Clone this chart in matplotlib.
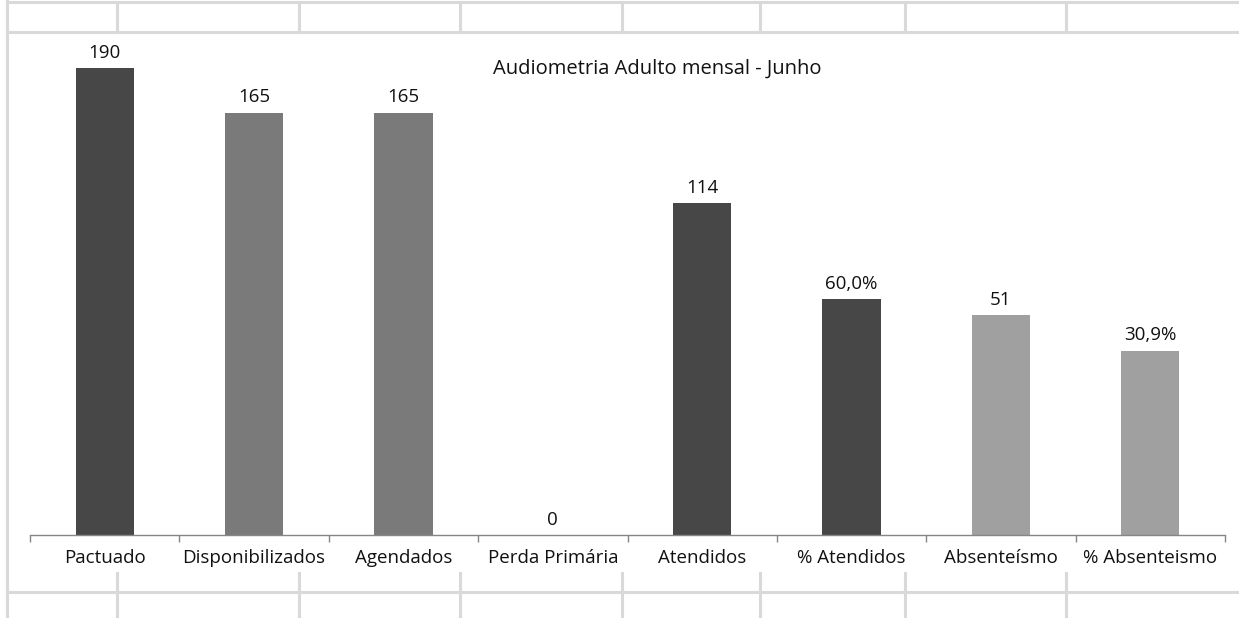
import matplotlib
matplotlib.use("Agg")
import matplotlib.pyplot as plt
from matplotlib.lines import Line2D
import numpy as np

plt.rcParams['font.family'] = ['Open Sans', 'DejaVu Sans']

categories = ["Pactuado", "Disponibilizados", "Agendados", "Perda Primária",
              "Atendidos", "% Atendidos", "Absenteísmo", "% Absenteismo"]
values = [190, 165, 165, 0, 114, 60.0, 51, 30.9]
value_labels = ["190", "165", "165", "0", "114", "60,0%", "51", "30,9%"]
bar_colors = ["#474747", "#7a7a7a", "#7a7a7a", "#7a7a7a",
              "#474747", "#474747", "#a0a0a0", "#a0a0a0"]
title = "Audiometria Adulto mensal - Junho"

W, H = 1239, 618
fig = plt.figure(figsize=(W / 100, H / 100), dpi=100)
fig.patch.set_facecolor("white")

# spreadsheet cell borders around the embedded chart
grid_c = "#d9d9d9"
def fx(px):
    return px / W
def fy(py):
    return 1 - py / H
for y in (2, 32, 592):
    fig.add_artist(Line2D([fx(7), 1], [fy(y), fy(y)], color=grid_c, lw=2.2))
fig.add_artist(Line2D([fx(7), fx(7)], [0, 1], color=grid_c, lw=2.2))
for x in (117, 299, 460, 622, 760, 905, 1066):
    fig.add_artist(Line2D([fx(x), fx(x)], [fy(2), fy(32)], color=grid_c, lw=2.2))
    fig.add_artist(Line2D([fx(x), fx(x)], [fy(573), 0], color=grid_c, lw=2.2))

# chart plot area; the value axis starts below zero
floor, top = -73, 206
ax_left, ax_right = 30, 1225
ax_bottom, ax_top = 535, 40
ax = fig.add_axes([fx(ax_left), fy(ax_bottom), (ax_right - ax_left) / W,
                   (ax_bottom - ax_top) / H])
ax.set_facecolor("none")

x = np.arange(len(categories))
vals = np.array(values)
heights = np.where(vals > 0, vals - floor, 0)
ax.bar(x, heights, bottom=floor, width=0.39, color=bar_colors, zorder=2)
ax.set_xlim(-0.5, len(categories) - 0.5)
ax.set_ylim(floor, top)

text_c = "#111111"
for xi, v, lab in zip(x, vals, value_labels):
    ytop = v if v > 0 else floor
    ax.annotate(lab, (xi, ytop), xytext=(0, 4.5), textcoords="offset points",
                ha="center", va="bottom", fontsize=13.5, color=text_c)

for s in ("top", "right", "left"):
    ax.spines[s].set_visible(False)
ax.spines["bottom"].set_color("#868686")
ax.spines["bottom"].set_linewidth(1.0)
ax.set_yticks([])
ax.set_xticks(np.arange(len(categories) + 1) - 0.5)
ax.set_xticklabels([])
ax.tick_params(axis="x", direction="out", length=5, color="#868686", width=1.0)
for xi, c in enumerate(categories):
    ax.annotate(c, (xi, 0), xycoords=("data", "axes fraction"),
                xytext=(0, -16.5), textcoords="offset points",
                ha="center", va="center", fontsize=13.5, color=text_c)

fig.text(fx(657), fy(69), title, ha="center", va="center", fontsize=14.5,
         color=text_c)

fig.savefig("out.png", dpi=100, facecolor="white")
